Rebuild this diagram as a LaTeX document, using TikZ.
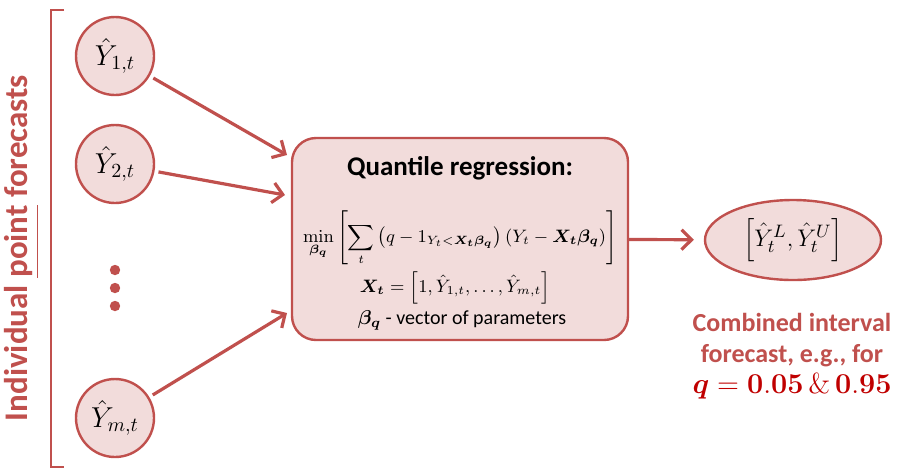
\documentclass[tikz,border=0pt]{standalone}
\usepackage[no-math]{fontspec}
\usepackage{amsmath,bm}
\setmainfont{Carlito}
\usetikzlibrary{arrows.meta,shapes.geometric}
\definecolor{accred}{HTML}{C0504D}
\definecolor{lightred}{HTML}{F2DCDB}
\definecolor{darkred}{HTML}{C00000}

\begin{document}
\begin{tikzpicture}[x=0.5pt,y=-0.5pt,
    fcast/.style={circle,draw=accred,fill=lightred,line width=1.2pt,minimum size=39pt,inner sep=0pt,font=\fontsize{14}{16}\selectfont},
    link/.style={draw=accred,line width=1.6pt,-{Straight Barb[length=5pt,width=10pt]}}]
    \useasboundingbox (0,0) rectangle (898,472);
    % bracket and its label
    \draw[accred,line width=1.4pt] (64,10) -- (51,10) -- (51,467) -- (64,467);
    \node[rotate=90,text=accred,font=\bfseries\fontsize{16.5}{18}\selectfont] (lbl) at (22,248) {Individual \underline{point} forecasts};
    % point forecasts
    \node[fcast] (y1) at (115,56) {$\hat{Y}_{1,t}$};
    \node[fcast] (y2) at (115,164) {$\hat{Y}_{2,t}$};
    \node[fcast] (ym) at (115,418) {$\hat{Y}_{m,t}$};
    \fill[accred] (115,270) circle (2.6pt);
    \fill[accred] (115,288) circle (2.6pt);
    \fill[accred] (115,306) circle (2.6pt);
    % combination box
    \node[rectangle,rounded corners=12pt,draw=accred,fill=lightred,line width=1.2pt,minimum width=168pt,minimum height=101pt] (qr) at (460,239) {};
    \node[font=\bfseries\fontsize{13.5}{16}\selectfont] (ttl) at (460,168) {Quantile regression:};
    \node[font=\fontsize{9}{11}\selectfont] (obj) at (460,238) {$\displaystyle\min_{\bm{\beta}_{\bm q}}\left[\sum_t\left(q-1_{Y_t<\bm{X}_{\bm t}\bm{\beta}_{\bm q}}\right)\left(Y_t-\bm{X}_{\bm t}\bm{\beta}_{\bm q}\right)\right]$};
    \node[font=\fontsize{9}{11}\selectfont] (xt) at (455,288) {$\bm{X}_{\bm t}=\left[1,\hat{Y}_{1,t},\ldots,\hat{Y}_{m,t}\right]$};
    \node[font=\fontsize{10}{12}\selectfont] (bq) at (462,320) {$\bm{\beta}_{\bm q}$ - vector of parameters};
    % combined interval
    \node[ellipse,draw=accred,fill=lightred,line width=1.2pt,minimum width=88pt,minimum height=40pt,inner sep=1pt,font=\fontsize{12.5}{14}\selectfont] (iv) at (793,240) {$\left[\hat{Y}_t^L,\hat{Y}_t^U\right]$};
    \node[align=center,text=accred,font=\bfseries\fontsize{13}{15.5}\selectfont] (cap) at (792,356) {Combined interval\\forecast, e.g., for\\\textcolor{darkred}{\fontsize{14}{16}\selectfont$\bm{q}=\mathbf{0.05}\,\&\,\mathbf{0.95}$}};
    % arrows
    \coordinate (in1) at (287,155);
    \coordinate (in2) at (285,195);
    \coordinate (in3) at (287,313);
    \draw[link,shorten <=2pt] (y1) -- (in1);
    \draw[link,shorten <=2pt] (y2) -- (in2);
    \draw[link,shorten <=2pt] (ym) -- (in3);
    \draw[link,shorten >=5pt] (qr) -- (iv);
\end{tikzpicture}
\end{document}
